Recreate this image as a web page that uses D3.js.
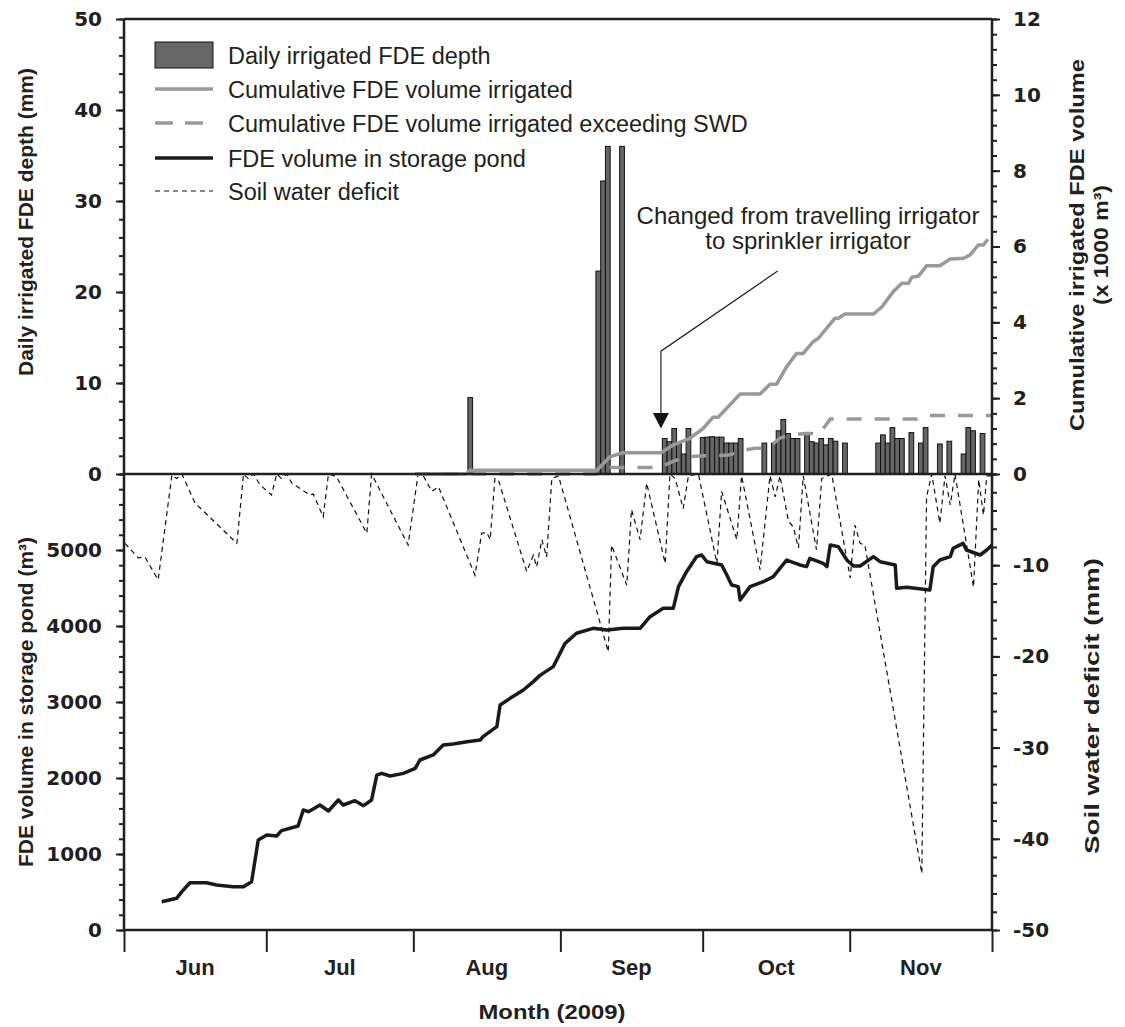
<!DOCTYPE html>
<head>
    <meta charset="utf-8">
    <script src="https://d3js.org/d3.v7.min.js"></script>
    <style>
      body { margin: 0; background: #fff; }
      text {
        font-family: "Liberation Sans", Arial, sans-serif;
        fill: #231f20;
      }
      .ticklabel { font-size: 22px; font-weight: bold; }
      .numlabel { font-family: "DejaVu Sans", sans-serif; font-size: 20px; font-weight: bold; }
      .axistitle { font-size: 21px; font-weight: bold; }
      .legendtext { font-size: 23.5px; }
      .note { font-size: 24px; }
    </style>
<body>
    <script>
        // x values are days since 1 June 2009
        var months = ["Jun", "Jul", "Aug", "Sep", "Oct", "Nov"]

        // daily irrigated FDE depth (mm)
        var barDay = [73, 100, 101, 102, 105, 114, 115, 116, 117, 118, 119,
          122, 123, 124, 125, 126, 127, 128, 129, 130, 135,
          137, 138, 139, 140, 141, 142, 144, 145, 146, 147, 148, 149, 150, 152,
          159, 160, 161, 162, 163, 164, 166, 168, 169, 172, 174, 177, 178, 179, 181]
        var barDepth = [8.4, 22.3, 32.2, 36, 36, 3.9, 3.55, 5.0, 3.4, 2.2, 5.0,
          4.0, 4.05, 4.1, 4.05, 4.05, 3.4, 3.4, 3.4, 3.9, 3.4,
          3.4, 4.75, 6.0, 4.45, 3.9, 3.9, 4.45, 3.55, 3.4, 3.9, 3.2, 3.9, 3.6, 3.4,
          3.4, 4.3, 3.4, 5.1, 3.9, 3.9, 4.55, 3.4, 5.1, 3.3, 3.6, 2.2, 5.1, 4.75, 4.45]

        // cumulative FDE volume irrigated (x 1000 m3)
        var cumDay = [61.4, 72.1, 72.9, 99.7, 102.5, 105.2, 113.2, 115.7, 119.3, 122.1,
          124.2, 125.3, 129.9, 134.1, 136.2, 137.6, 139.7, 141.8, 143.2, 145.3,
          146.4, 149.9, 150.6, 152.0, 158.0, 159.8, 162.2, 164.0, 165.4, 166.1,
          167.5, 169.2, 172.0, 174.2, 177.0, 178.4, 180.1, 181.2, 182.1]
        var cumVol = [0, 0, 0.1, 0.1, 0.46, 0.56, 0.56, 0.76, 0.94, 1.20,
          1.50, 1.50, 2.11, 2.11, 2.37, 2.37, 2.83, 3.18, 3.18, 3.49,
          3.58, 4.11, 4.11, 4.22, 4.22, 4.41, 4.81, 5.03, 5.03, 5.19,
          5.22, 5.49, 5.49, 5.67, 5.69, 5.78, 6.04, 6.04, 6.19]

        // cumulative FDE volume irrigated exceeding SWD (x 1000 m3)
        var exDay = [61.4, 99.7, 102, 113, 115.5, 118.7, 127.5, 130.9, 133, 135.8,
          138.3, 140.4, 143.6, 146.7, 148.9, 167.2, 168.9, 183]
        var exVol = [0, 0, 0.17, 0.17, 0.32, 0.46, 0.5, 0.63, 0.68, 0.68,
          0.95, 1.03, 1.07, 1.07, 1.45, 1.45, 1.54, 1.54]

        // FDE volume in storage pond (m3)
        var pondDay = [7.95, 11.1, 12.2, 13.9, 17.4, 19.5, 23.0, 25.2, 26.9, 28.3,
          30.1, 32.2, 33.2, 36.7, 37.8, 38.9, 41.3, 43.1, 45.2, 46.2,
          48.7, 50.5, 52.2, 53.3, 54.3, 56.1, 58.9, 61.4, 62.4, 65.2,
          67.3, 69.4, 72.3, 75.1, 75.7, 78.6, 79.3, 81.4, 84.2, 86.3,
          87.7, 90.5, 93.0, 95.4, 98.9, 101.8, 105.3, 108.8, 110.9, 113.7,
          115.8, 116.9, 118.6, 120.7, 121.8, 122.9, 126.0, 127.1, 128.1, 129.5,
          129.9, 132.0, 134.8, 136.9, 139.7, 142.5, 143.9, 144.6, 147.4, 148.2,
          148.9, 150.6, 152.4, 153.8, 155.2, 158.0, 159.4, 162.6, 162.9, 165.0,
          169.9, 170.6, 172.0, 174.2, 174.8, 176.9, 177.6, 180.5, 181.9, 183.0]
        var pondVol = [372, 417, 504, 622, 622, 592, 570, 570, 636, 1184,
          1250, 1237, 1307, 1368, 1579, 1557, 1645, 1566, 1711, 1645,
          1701, 1636, 1711, 2039, 2061, 2026, 2061, 2127, 2237, 2303,
          2434, 2447, 2478, 2500, 2544, 2675, 2961, 3048, 3158, 3268,
          3350, 3465, 3772, 3904, 3969, 3947, 3969, 3969, 4123, 4233,
          4233, 4518, 4715, 4912, 4934, 4846, 4803, 4671, 4539, 4518,
          4342, 4518, 4583, 4649, 4868, 4803, 4781, 4891, 4825, 4781,
          5066, 5044, 4868, 4789, 4789, 4912, 4846, 4803, 4496, 4509,
          4474, 4781, 4868, 4912, 5022, 5088, 5000, 4934, 5000, 5066]

        // soil water deficit (mm)
        var swdDay = [0.2, 3.0, 4.4, 7.2, 10.1, 11.1, 12.2, 15.0, 23.8, 25.2,
          26.2, 27.3, 28.7, 31.1, 32.2, 33.2, 34.3, 35.4, 39.2, 39.9,
          42.0, 43.1, 44.8, 51.2, 52.2, 59.9, 62.0, 63.1, 64.9, 66.3,
          74.0, 75.4, 76.5, 77.2, 78.2, 78.9, 84.9, 86.3, 87.0, 88.1,
          89.1, 90.2, 91.6, 102.1, 102.8, 106.0, 107.0, 108.8, 110.2, 114.1,
          115.1, 116.2, 117.9, 119.0, 121.1, 125.0, 126.0, 129.2, 130.2, 134.1,
          136.2, 137.3, 138.3, 140.1, 141.1, 142.2, 143.2, 146.0, 147.1, 149.2,
          153.1, 154.1, 155.2, 156.2, 168.2, 169.2, 170.3, 172.0, 173.1, 174.2,
          175.2, 179.1, 180.2, 181.2, 181.9, 182.9]
        var swdVal = [-7.6, -9.2, -9.1, -11.6, -0.1, -0.5, 0, -3.2, -7.6, 0,
          -0.5, 0, -1.2, -2.3, 0, -0.5, 0, -1.0, -2.3, -2.2,
          -4.7, 0, -0.3, -6.5, 0, -7.8, 0, -0.2, -1.9, -1.4,
          -11.1, -6.5, -6.4, -7.2, -0.5, -0.6, -10.7, -8.9, -10.2, -7.2,
          -9.1, -0.5, -0.2, -19.5, -7.8, -12.2, -3.9, -7.2, -1.0, -9.8,
          0, -0.5, -3.8, -0.2, 0, -9.8, -1.9, -7.2, -0.2, -10.5,
          -0.2, -2.5, -0.2, -5.2, -5.8, -8.1, -0.2, -8.3, -0.5, 0,
          -11.4, -5.6, -7.6, -7.8, -43.8, -2.5, 0, -5.4, -0.2, -3.4,
          0, -12.4, -0.6, -4.5, -0.2, -0.2]

        var svg_w = 1125, svg_h = 1027
        var plotLeft = 124, plotRight = 992, plotTop = 19, plotMid = 474, plotBottom = 930

        var svg = d3.select("body").append("svg")
          .attr("width", svg_w)
          .attr("height", svg_h)

        var start = new Date(2009, 5, 1)
        var end = new Date(2009, 11, 1)
        function day(n) { return new Date(start.getTime() + n * 864e5) }

        var x = d3.scaleTime().domain([start, end]).range([plotLeft, plotRight])
        var yDepth = d3.scaleLinear().domain([0, 50]).range([plotMid, plotTop])
        var yCum = d3.scaleLinear().domain([0, 12]).range([plotMid, plotTop])
        var yPond = d3.scaleLinear().domain([0, 6000]).range([plotBottom, plotMid])
        var ySwd = d3.scaleLinear().domain([-50, 0]).range([plotBottom, plotMid])

        function zip(a, b) { return a.map(function(d, i) { return [d, b[i]] }) }

        // BARS
        var bw = x(day(1)) - x(day(0))
        svg.append("g").selectAll("rect")
          .data(zip(barDay, barDepth))
          .enter().append("rect")
          .attr("x", function(d) { return x(day(d[0])) - bw / 2 })
          .attr("width", bw)
          .attr("y", function(d) { return yDepth(d[1]) })
          .attr("height", function(d) { return yDepth(0) - yDepth(d[1]) })
          .attr("fill", "#666")
          .attr("stroke", "#111")
          .attr("stroke-width", 1)

        // LINES
        function lineOf(ys) {
          return d3.line().x(function(d) { return x(day(d[0])) }).y(function(d) { return ys(d[1]) })
        }
        svg.append("path")
          .attr("d", lineOf(ySwd)(zip(swdDay, swdVal)))
          .attr("fill", "none").attr("stroke", "#111").attr("stroke-width", 1.2)
          .attr("stroke-dasharray", "5,4")
        svg.append("path")
          .attr("d", lineOf(yPond)(zip(pondDay, pondVol)))
          .attr("fill", "none").attr("stroke", "#1a1a1a").attr("stroke-width", 3.5)
          .attr("stroke-linejoin", "round")
        svg.append("path")
          .attr("d", lineOf(yCum)(zip(exDay, exVol)))
          .attr("fill", "none").attr("stroke", "#999").attr("stroke-width", 3.5)
          .attr("stroke-dasharray", "15,13")
        svg.append("path")
          .attr("d", lineOf(yCum)(zip(cumDay, cumVol)))
          .attr("fill", "none").attr("stroke", "#999").attr("stroke-width", 3.5)
          .attr("stroke-linejoin", "round")

        // AXES
        function styleAxis(g) {
          g.select(".domain").remove()
          g.selectAll("line").attr("stroke", "#231f20").attr("stroke-width", 2)
          g.selectAll("text").classed("numlabel", true).attr("fill", "#231f20")
            .attr("font-family", null).attr("font-size", null)
        }
        function axisPair(axisFn, scale, minor, major, xpos, pad) {
          svg.append("g").attr("transform", "translate(" + xpos + ",0)")
            .call(axisFn(scale).tickValues(minor).tickSize(5).tickFormat(""))
            .call(styleAxis)
          svg.append("g").attr("transform", "translate(" + xpos + ",0)")
            .call(axisFn(scale).tickValues(major).tickSize(8).tickPadding(pad)
              .tickFormat(function(d) { return String(d) }))
            .call(styleAxis)
        }
        axisPair(d3.axisLeft, yDepth, d3.range(0, 51, 2), d3.range(0, 51, 10), plotLeft, 14)
        axisPair(d3.axisLeft, yPond, d3.range(0, 6001, 200), d3.range(0, 5001, 1000), plotLeft, 14)
        axisPair(d3.axisRight, yCum, d3.range(0, 12.01, 0.4), d3.range(0, 13, 2), plotRight, 13)
        axisPair(d3.axisRight, ySwd, d3.range(-50, 0.1, 2), d3.range(-50, -9, 10), plotRight, 13)

        var monthStarts = d3.timeMonth.range(start, d3.timeDay.offset(end, 1))
        svg.append("g").attr("transform", "translate(0," + plotBottom + ")")
          .call(d3.axisBottom(x).tickValues(monthStarts).tickSize(22).tickFormat(""))
          .call(styleAxis)
        svg.append("g").selectAll("text")
          .data(months)
          .enter().append("text")
          .classed("ticklabel", true)
          .attr("x", function(d, i) { return (x(monthStarts[i]) + x(monthStarts[i + 1])) / 2 })
          .attr("y", 975)
          .attr("text-anchor", "middle")
          .text(function(d) { return d })

        // frame
        var frame = svg.append("g").attr("stroke", "#231f20").attr("stroke-width", 2.5)
        ;[plotTop, plotMid, plotBottom].forEach(function(yy) {
          frame.append("line").attr("x1", plotLeft).attr("x2", plotRight).attr("y1", yy).attr("y2", yy)
        })
        ;[plotLeft, plotRight].forEach(function(xx) {
          frame.append("line").attr("x1", xx).attr("x2", xx).attr("y1", plotTop).attr("y2", plotBottom)
        })

        // AXIS TITLES
        function vtitle(txt, xpos, ypos, len) {
          var t = svg.append("text").classed("axistitle", true)
            .attr("transform", "translate(" + xpos + "," + ypos + ") rotate(-90)")
            .attr("text-anchor", "middle")
            .text(txt)
          if (len) t.attr("textLength", len).attr("lengthAdjust", "spacingAndGlyphs")
        }
        vtitle("Daily irrigated FDE depth (mm)", 33, 222)
        vtitle("FDE volume in storage pond (m³)", 33, 702)
        vtitle("Cumulative irrigated FDE volume", 1084, 245, 372)
        vtitle("(x 1000 m³)", 1108, 245, 120)
        vtitle("Soil water deficit (mm)", 1099, 706, 296)
        svg.append("text").classed("axistitle", true)
          .attr("x", 552).attr("y", 1019)
          .attr("text-anchor", "middle")
          .attr("textLength", 147).attr("lengthAdjust", "spacingAndGlyphs")
          .text("Month (2009)")

        // LEGEND
        var lg = svg.append("g")
        lg.append("rect").attr("x", 155).attr("y", 42).attr("width", 58).attr("height", 26)
          .attr("fill", "#666").attr("stroke", "#111").attr("stroke-width", 1)
        var legendLines = [
          {y: 89, stroke: "#999", w: 3.5, dash: null},
          {y: 123, stroke: "#999", w: 3.5, dash: "18,12"},
          {y: 158, stroke: "#1a1a1a", w: 3.5, dash: null},
          {y: 191, stroke: "#111", w: 1.2, dash: "5,4"}
        ]
        lg.selectAll("line").data(legendLines).enter().append("line")
          .attr("x1", 155).attr("x2", 213)
          .attr("y1", function(d) { return d.y }).attr("y2", function(d) { return d.y })
          .attr("stroke", function(d) { return d.stroke })
          .attr("stroke-width", function(d) { return d.w })
          .attr("stroke-dasharray", function(d) { return d.dash })
        var legendNames = ["Daily irrigated FDE depth", "Cumulative FDE volume irrigated",
          "Cumulative FDE volume irrigated exceeding SWD", "FDE volume in storage pond", "Soil water deficit"]
        var legendY = [64, 98, 132, 167, 200]
        lg.selectAll("text").data(legendNames).enter().append("text")
          .classed("legendtext", true)
          .attr("x", 228)
          .attr("y", function(d, i) { return legendY[i] })
          .text(function(d) { return d })

        // ANNOTATION
        var arrowPts = [[137.8, 22.3], [113.2, 13.5], [113.2, 6.6]]
        svg.append("path")
          .attr("d", d3.line().x(function(d) { return x(day(d[0])) }).y(function(d) { return yDepth(d[1]) })(arrowPts))
          .attr("fill", "none").attr("stroke", "#231f20").attr("stroke-width", 1.2)
        var ax = x(day(113.2)), ay = yDepth(6.7)
        svg.append("path")
          .attr("d", "M" + (ax - 8) + "," + ay + "L" + (ax + 8) + "," + ay + "L" + ax + "," + yDepth(5.0) + "Z")
          .attr("fill", "#111")
        svg.append("text").classed("note", true)
          .attr("x", x(day(144.2))).attr("y", yDepth(27.5))
          .attr("text-anchor", "middle")
          .text("Changed from travelling irrigator")
        svg.append("text").classed("note", true)
          .attr("x", x(day(144.2))).attr("y", yDepth(24.7))
          .attr("text-anchor", "middle")
          .text("to sprinkler irrigator")
    </script>
</body>
